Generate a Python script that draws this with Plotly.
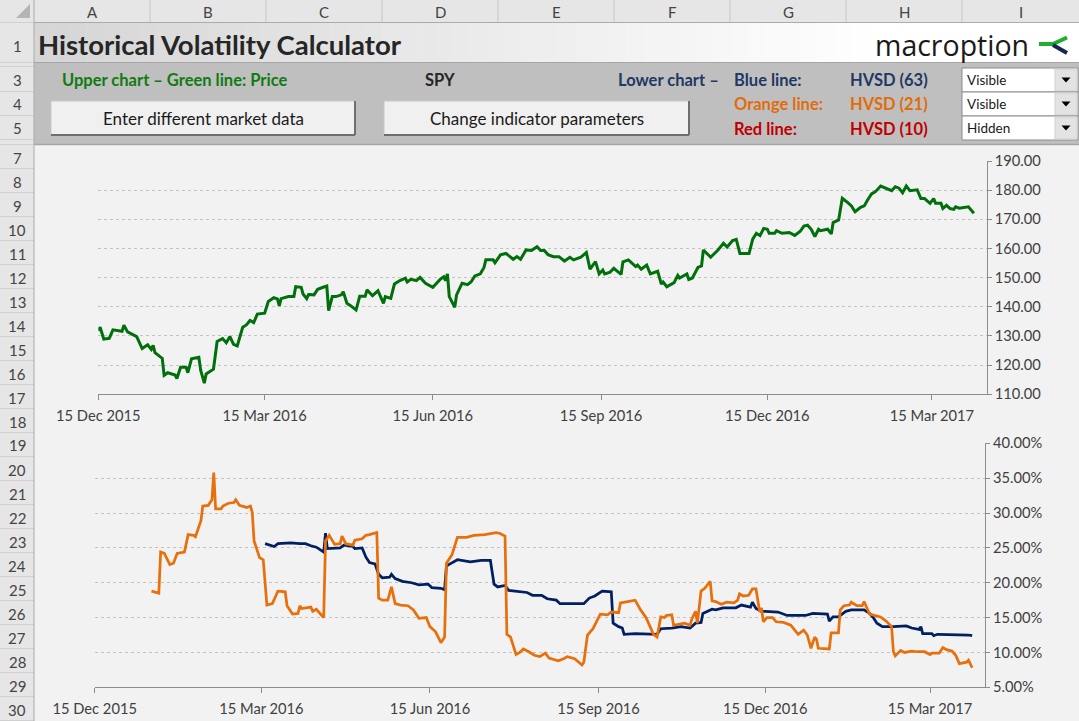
import pandas as pd
import plotly.graph_objects as go

W, H = 1079, 721
FONT = "Lato"

# ---- chart data ---------------------------------------------------------
# x values are days after 15 Dec 2015
price_day = [0, 1, 3, 6, 8, 13, 14, 16, 21, 24,
             27, 29, 30, 31, 35, 36, 38, 42, 43, 45,
             48, 49, 51, 55, 56, 58, 59, 63, 65, 68,
             70, 72, 74, 76, 79, 81, 83, 85, 87, 91,
             93, 96, 98, 99, 100, 104, 107, 108, 111, 112,
             114, 115, 118, 120, 123, 125, 126, 128, 130, 133,
             134, 136, 138, 141, 143, 146, 147, 150, 153, 156,
             157, 160, 162, 165, 168, 169, 171, 174, 176, 179,
             183, 187, 189, 190, 191, 192, 195, 196, 199, 202,
             204, 206, 209, 211, 212, 216, 217, 220, 223, 227,
             229, 231, 234, 237, 240, 242, 244, 246, 249, 252,
             255, 258, 260, 264, 267, 269, 272, 274, 276, 277,
             280, 282, 286, 287, 290, 294, 295, 297, 300, 302,
             306, 308, 309, 311, 315, 317, 318, 322, 323, 325,
             328, 330, 331, 335, 339, 342, 344, 347, 349, 351,
             356, 358, 360, 362, 364, 366, 367, 370, 371, 374,
             378, 381, 384, 386, 388, 390, 392, 394, 395, 399,
             401, 402, 405, 407, 410, 412, 414, 417, 419, 420,
             421, 423, 425, 428, 431, 434, 436, 438, 440, 442,
             444, 448, 450, 452, 455, 457, 458, 461, 462, 464,
             466, 468, 469, 471, 476, 478, 479]
price = [131.8, 133.0, 128.9, 129.2, 132.1, 131.6, 133.7, 131.4, 129.8, 125.7,
         127.0, 125.4, 126.8, 124.3, 122.3, 116.5, 117.4, 116.6, 115.4, 119.3,
         119.3, 117.4, 122.2, 122.7, 118.3, 113.8, 117.0, 118.6, 128.1, 129.1,
         127.7, 129.8, 127.1, 126.6, 133.0, 133.8, 135.3, 134.6, 137.5, 137.8,
         141.8, 143.1, 142.7, 140.3, 142.8, 143.5, 143.5, 146.9, 146.7, 144.4,
         142.8, 144.2, 144.1, 146.0, 146.7, 147.1, 138.7, 143.5, 143.5, 144.1,
         145.2, 141.2, 140.4, 138.9, 143.6, 143.6, 145.8, 143.8, 145.5, 141.2,
         143.5, 142.9, 147.8, 149.0, 149.8, 148.5, 149.4, 149.0, 150.1, 148.1,
         146.7, 149.4, 150.3, 149.0, 151.3, 143.5, 139.8, 144.1, 148.1, 147.6,
         148.6, 150.6, 151.3, 153.5, 156.1, 156.1, 155.1, 157.8, 158.3, 156.3,
         157.2, 156.3, 159.5, 159.3, 160.6, 159.3, 159.3, 157.9, 157.2, 157.2,
         155.7, 157.0, 156.1, 157.0, 158.6, 152.9, 155.5, 151.3, 152.6, 151.3,
         151.9, 153.2, 151.1, 155.4, 156.1, 153.8, 154.3, 152.9, 154.3, 151.3,
         152.2, 147.8, 148.5, 146.9, 148.3, 150.8, 149.9, 151.3, 149.4, 149.9,
         153.5, 154.0, 159.5, 157.0, 159.5, 161.8, 160.5, 162.7, 163.1, 158.3,
         158.3, 163.2, 165.2, 164.4, 166.9, 166.6, 165.2, 165.2, 166.1, 165.2,
         165.5, 164.5, 165.9, 167.7, 168.0, 166.6, 164.1, 166.6, 166.1, 166.6,
         165.0, 168.9, 169.8, 177.2, 175.7, 174.6, 172.6, 174.1, 174.6, 175.9,
         176.8, 178.7, 179.4, 181.4, 180.5, 179.8, 181.2, 180.7, 179.1, 181.4,
         179.8, 180.1, 177.1, 177.1, 175.5, 177.1, 175.5, 175.5, 173.7, 174.8,
         173.7, 173.4, 174.3, 173.8, 174.3, 172.6, 172.1]

hvsd63_day = [93, 96, 98, 100, 107, 112, 115, 118, 121, 125,
              126, 127, 134, 136, 141, 142, 146, 148, 150, 153,
              155, 157, 161, 162, 164, 168, 173, 177, 182, 184,
              189, 191, 192, 194, 198, 205, 211, 216, 218, 220,
              224, 226, 231, 236, 239, 244, 247, 252, 254, 260,
              267, 270, 273, 277, 282, 283, 286, 288, 289, 295,
              301, 307, 309, 315, 320, 325, 328, 331, 332, 337,
              339, 343, 350, 353, 358, 359, 361, 364, 366, 373,
              378, 388, 392, 400, 401, 403, 406, 410, 413, 420,
              423, 425, 427, 430, 436, 440, 443, 446, 450, 451,
              452, 457, 458, 460, 470, 472, 477, 479]
hvsd63 = [25.6, 25.4, 25.2, 25.6, 25.7, 25.6, 25.6, 25.3, 25.1, 24.4,
          27.1, 24.9, 25.0, 25.4, 25.2, 24.9, 25.0, 23.7, 22.9, 22.7,
          21.2, 20.7, 20.8, 21.2, 20.6, 20.2, 20.0, 19.7, 19.8, 19.3,
          19.2, 19.0, 22.4, 22.7, 23.3, 23.0, 23.2, 23.2, 19.8, 19.4,
          19.6, 18.9, 18.8, 18.6, 18.2, 18.2, 17.7, 17.5, 17.0, 17.0,
          17.0, 17.8, 18.1, 18.8, 18.7, 14.2, 13.7, 13.5, 12.6, 12.7,
          12.6, 12.6, 13.4, 13.5, 13.7, 13.5, 14.2, 14.3, 15.6, 16.2,
          16.1, 16.4, 16.4, 16.8, 16.5, 17.2, 16.3, 15.9, 15.9, 15.8,
          15.3, 15.3, 15.6, 15.5, 14.5, 15.1, 15.1, 15.9, 16.1, 16.1,
          15.6, 15.0, 14.2, 13.7, 13.7, 13.8, 13.8, 13.5, 13.3, 13.7,
          12.7, 12.7, 12.4, 12.6, 12.6, 12.6, 12.5, 12.4]

hvsd21_day = [31, 35, 36, 38, 41, 43, 45, 49, 51, 54,
              55, 58, 59, 62, 64, 65, 66, 69, 70, 73,
              76, 77, 79, 83, 85, 86, 87, 90, 92, 94,
              97, 100, 104, 105, 108, 111, 112, 113, 118, 119,
              121, 125, 126, 128, 131, 134, 135, 137, 141, 142,
              146, 148, 150, 152, 154, 155, 157, 160, 162, 164,
              167, 171, 174, 177, 181, 183, 186, 189, 191, 192,
              195, 198, 203, 207, 213, 219, 221, 224, 225, 227,
              230, 232, 234, 237, 240, 243, 246, 248, 253, 256,
              258, 262, 266, 267, 269, 272, 276, 280, 282, 286,
              287, 291, 295, 298, 301, 304, 305, 307, 309, 311,
              312, 315, 316, 322, 325, 326, 328, 329, 331, 333,
              335, 336, 337, 339, 342, 345, 349, 351, 352, 354,
              357, 359, 361, 363, 364, 365, 367, 370, 372, 376,
              380, 384, 387, 389, 391, 393, 394, 395, 401, 402,
              406, 407, 409, 412, 413, 416, 419, 420, 423, 425,
              429, 432, 435, 436, 437, 440, 442, 446, 449, 453,
              456, 457, 461, 463, 465, 468, 470, 472, 476, 477,
              478, 479]
hvsd21 = [18.8, 18.5, 24.4, 24.2, 22.6, 22.8, 24.2, 24.4, 26.9, 26.8,
          26.6, 28.9, 31.0, 31.1, 31.9, 35.8, 30.6, 30.6, 31.0, 31.4,
          31.5, 31.9, 31.1, 30.8, 31.0, 30.1, 26.0, 23.6, 23.3, 16.8,
          17.0, 18.8, 18.7, 16.7, 15.5, 15.6, 16.7, 16.3, 16.5, 15.9,
          16.2, 15.0, 26.0, 26.8, 25.5, 25.6, 26.7, 25.6, 25.4, 26.1,
          26.3, 26.8, 26.9, 27.1, 27.2, 17.8, 17.5, 17.5, 19.4, 17.0,
          16.8, 16.7, 16.1, 14.9, 15.0, 13.7, 13.0, 11.4, 12.2, 22.8,
          24.0, 26.5, 26.5, 26.8, 26.9, 27.2, 27.1, 26.7, 12.6, 12.2,
          9.7, 10.0, 10.5, 10.1, 9.6, 9.4, 9.9, 9.2, 8.8, 9.1,
          9.4, 9.1, 8.2, 8.6, 12.5, 13.4, 15.5, 15.4, 15.8, 15.7,
          17.1, 17.3, 17.5, 16.1, 15.0, 13.2, 12.6, 12.2, 15.1, 15.0,
          15.3, 15.4, 13.9, 14.2, 13.9, 14.8, 15.9, 14.2, 18.8, 19.2,
          19.9, 20.2, 17.4, 17.3, 16.9, 17.2, 17.1, 17.5, 18.4, 18.1,
          18.2, 19.1, 19.1, 15.8, 16.4, 14.4, 15.0, 15.0, 14.4, 14.3,
          13.9, 12.6, 13.2, 12.5, 10.6, 12.2, 11.9, 10.6, 10.5, 12.8,
          12.8, 16.1, 16.7, 16.8, 17.2, 16.7, 16.7, 17.3, 15.5, 15.4,
          15.1, 14.5, 13.7, 10.1, 9.5, 10.3, 10.0, 10.2, 10.1, 10.1,
          9.7, 9.9, 9.9, 10.7, 10.4, 10.2, 9.6, 8.4, 8.6, 8.9,
          8.3, 7.8]

date_ticks = ["2015-12-15", "2016-03-15", "2016-06-15",
              "2016-09-15", "2016-12-15", "2017-03-15"]
date_range = ["2015-12-15", "2017-04-14"]

col_letters = ["A", "B", "C", "D", "E", "F", "G", "H", "I"]
row_numbers = [1, 3, 4, 5] + list(range(7, 31))

START = pd.Timestamp("2015-12-15")


def as_dates(days):
    return START + pd.to_timedelta(days, unit="D")


# ---- helpers: screen pixels -> paper coords ------------------------------
def fx(x):
    return x / W


def fy(y):
    return 1 - y / H


shapes = []
notes = []


def box(x0, y0, x1, y1, fill, line=None, lw=0):
    shapes.append(dict(type="rect", xref="paper", yref="paper", layer="below",
                       x0=fx(x0), x1=fx(x1), y0=fy(y1), y1=fy(y0),
                       fillcolor=fill, line=dict(color=line or fill, width=lw)))


def seg(x0, y0, x1, y1, color, lw=1):
    shapes.append(dict(type="line", xref="paper", yref="paper", layer="below",
                       x0=fx(x0), x1=fx(x1), y0=fy(y0), y1=fy(y1),
                       line=dict(color=color, width=lw)))


def poly(points, color, lw=0, fill=None):
    path = "M" + " L".join(f"{fx(x):.5f},{fy(y):.5f}" for x, y in points)
    if fill:
        path += " Z"
    shapes.append(dict(type="path", xref="paper", yref="paper", layer="above",
                       path=path, fillcolor=fill or "rgba(0,0,0,0)",
                       line=dict(color=color, width=lw)))


def label(x, y, s, size=15, color="#333333", bold=False, anchor="left", family=FONT):
    notes.append(dict(xref="paper", yref="paper", x=fx(x), y=fy(y),
                      text=f"<b>{s}</b>" if bold else s, showarrow=False,
                      xanchor=anchor, yanchor="middle",
                      font=dict(family=family, size=size, color=color)))


# ---- spreadsheet chrome ----------------------------------------------------
col_edges = [34, 150, 266, 382, 498, 614, 730, 846, 962, 1079]
row_edges = [22.5, 62.5, 66.5, 91.5, 115.5, 139.5] + [144.5 + 24 * k for k in range(25)]

# row 1: grey-to-white gradient
n_strips = 60
for i in range(n_strips):
    x0 = 34 + i * (W - 34) / n_strips
    x1 = 34 + (i + 1) * (W - 34) / n_strips
    t = min(1.0, (x0 - 34) / 830)
    g = int(214 + (255 - 214) * t)
    box(x0, 22.5, x1 + 0.5, 62.5, f"rgb({g},{g},{g})")

box(34, 62.5, W, 144.5, "#bfbfbf")
seg(34, 62.5, W, 62.5, "#a6a6a6")
box(34, 144.5, W, H, "#f2f2f2")
seg(34, 144.5, W, 144.5, "#a6a6a6", 1.5)

# column header
box(0, 0, W, 22.5, "#e6e6e6")
for x in col_edges[1:-1]:
    seg(x, 0, x, 22.5, "#c6c6c6")
seg(0, 22.5, W, 22.5, "#ababab")
for i, c in enumerate(col_letters):
    label((col_edges[i] + col_edges[i + 1]) / 2, 12, c, 15, "#444444", anchor="center")

# row header
box(0, 22.5, 34, H, "#e6e6e6")
for y in row_edges:
    seg(0, y, 34, y, "#d0d0d0")
seg(34, 0, 34, H, "#ababab")
poly([(16, 18), (30, 18), (30, 4)], "#b4b4b4", 0, "#b4b4b4")

row_center = {1: 46, 3: 80, 4: 104, 5: 128}
for n in row_numbers:
    yc = row_center.get(n, 144.5 + (n - 7) * 24 + 13)
    label(17, yc, str(n), 15, "#444444", anchor="center")

# title + logo
label(36, 45, "Historical Volatility Calculator", 27.5, "#262626", bold=True)
label(873, 45, "macroption", 28.5, "#1a1a1a", family="Open Sans")
poly([(1039, 44), (1053, 44), (1067, 37.5)], "#1fae2e", 4)
poly([(1053, 45), (1067, 53)], "#15284b", 4)

# rows 3-5 texts
NAVY, ORANGE, RED, GREEN = "#1f3864", "#e26b0a", "#c00000", "#0f7b0f"
TS = 16.5
label(60, 80.5, "Upper chart – Green line: Price", TS, GREEN, bold=True)
label(440, 80.5, "SPY", TS, "#262626", bold=True, anchor="center")
label(721, 80.5, "Lower chart –", TS, NAVY, bold=True, anchor="right")
label(732, 80.5, "Blue line:", TS, NAVY, bold=True)
label(848, 80.5, "HVSD (63)", TS, NAVY, bold=True)
label(732, 104.5, "Orange line:", TS, ORANGE, bold=True)
label(848, 104.5, "HVSD (21)", TS, ORANGE, bold=True)
label(732, 128.5, "Red line:", TS, RED, bold=True)
label(848, 128.5, "HVSD (10)", TS, RED, bold=True)

# buttons
for x0, x1, txt in [(51, 355, "Enter different market data"),
                    (384, 689, "Change indicator parameters")]:
    box(x0, 101, x1, 135, "#f0f0f0", "#c8c8c8", 1)
    seg(x0, 135, x1, 135, "#6e6e6e", 2)
    seg(x1, 101, x1, 135, "#6e6e6e", 2)
    label((x0 + x1) / 2, 118.5, txt, 17, "#1a1a1a", anchor="center")

# dropdowns
for i, txt in enumerate(["Visible", "Visible", "Hidden"]):
    y0 = 68 + i * 24
    box(962, y0, 1078, y0 + 24, "white", "#8c8c8c", 1)
    box(1055, y0 + 1, 1077, y0 + 23, "#e3e3e3", "#d0d0d0", 1)
    yc = y0 + 12
    poly([(1061.5, yc - 2.5), (1070.5, yc - 2.5), (1066, yc + 2.5)], "black", 0, "black")
    label(965, yc, txt, 13.5, "#1a1a1a")

# ---- charts ----------------------------------------------------------------
fig = go.Figure()
fig.add_trace(go.Scatter(x=as_dates(price_day), y=price, mode="lines",
                         line=dict(color="#006f0c", width=3), xaxis="x", yaxis="y"))
fig.add_trace(go.Scatter(x=as_dates(hvsd63_day), y=hvsd63, mode="lines",
                         line=dict(color="#002060", width=2.75), xaxis="x2", yaxis="y2"))
fig.add_trace(go.Scatter(x=as_dates(hvsd21_day), y=hvsd21, mode="lines",
                         line=dict(color="#e8700c", width=2.75), xaxis="x2", yaxis="y2"))

AX = "#8c8c8c"
tick_font = dict(family=FONT, size=14.7, color="#404040")
x_common = dict(type="date", range=date_range, tickvals=date_ticks, tickformat="%d %b %Y",
                ticks="outside", ticklen=5, tickcolor=AX, showline=True, linecolor=AX,
                showgrid=False, zeroline=False, tickfont=tick_font, automargin=False,
                ticklabelstandoff=3)
y_common = dict(side="right", showline=True, linecolor=AX, ticks="outside", ticklen=4,
                tickcolor=AX, gridcolor="#c3c3c3", griddash="3px,3px", zeroline=False,
                tickformat=".2f", tickfont=tick_font, automargin=False)

fig.update_layout(
    width=W, height=H, autosize=False, margin=dict(l=0, r=0, t=0, b=0, pad=0),
    paper_bgcolor="white", plot_bgcolor="#f2f2f2", showlegend=False,
    xaxis=dict(domain=[fx(98.3), fx(986.7)], anchor="y", **x_common),
    yaxis=dict(domain=[fy(394.3), fy(161)], anchor="x", range=[110, 190], dtick=10,
               tick0=110, **y_common),
    xaxis2=dict(domain=[fx(94.7), fx(985)], anchor="y2", **x_common),
    yaxis2=dict(domain=[fy(687.3), fy(443.3)], anchor="x2", range=[5, 40], dtick=5,
                tick0=5, ticksuffix="%", **y_common),
    shapes=shapes, annotations=notes,
)

fig.write_html("out.html", config={"displayModeBar": False},
               post_script="document.body.style.margin='0';"
                           "document.body.style.overflow='hidden';")
